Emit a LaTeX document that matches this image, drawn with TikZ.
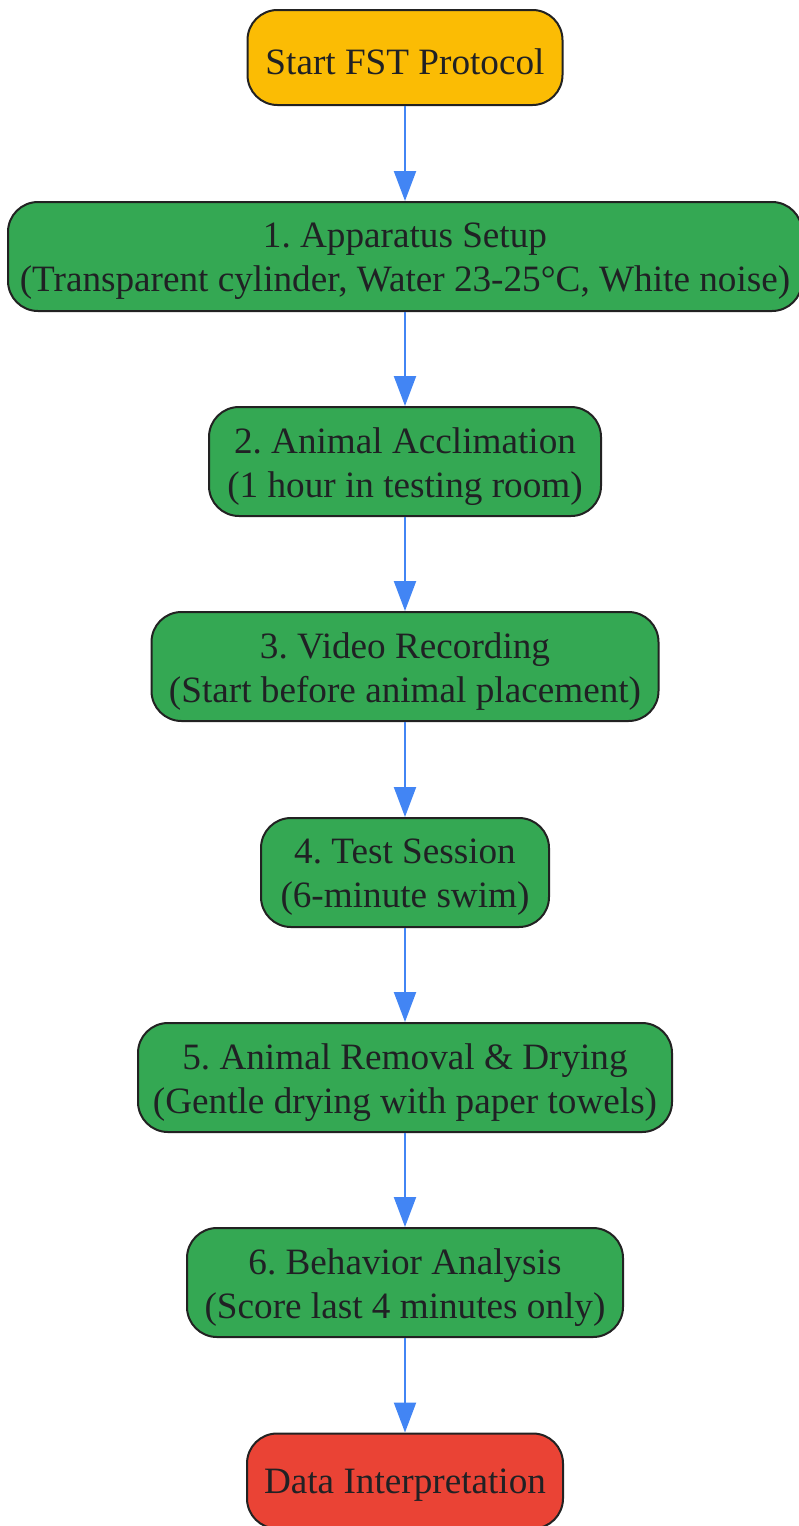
\documentclass[tikz,border=0pt]{standalone}
\usepackage{fontspec}
\setmainfont{Liberation Serif}
\usetikzlibrary{arrows.meta}
\definecolor{cyel}{HTML}{FBBC04}
\definecolor{cgrn}{HTML}{34A853}
\definecolor{cred}{HTML}{EA4335}
\definecolor{cblu}{HTML}{4285F4}
\definecolor{ctxt}{HTML}{202124}
\definecolor{cstk}{HTML}{222222}
\begin{document}
\frenchspacing
\begin{tikzpicture}[x=1pt,y=-1pt,
  box/.style={draw=cstk,line width=2pt,rounded corners=30pt,inner sep=0pt,anchor=center},
  one/.style={box,minimum height=95pt},
  two/.style={box,minimum height=109pt},
  txt/.style={align=center,text=ctxt,font=\fontsize{37.2}{44}\selectfont,inner sep=0pt},
  flow/.style={draw=cblu,line width=2.2pt,-{Triangle[length=30pt,width=22pt]}}]
\useasboundingbox (0,0) rectangle (798,1526);
\node[one,fill=cyel,minimum width=315pt] (s) at (405,57.5) {};
\node[two,fill=cgrn,minimum width=794pt] (a) at (405,256.5) {};
\node[two,fill=cgrn,minimum width=392pt] (b) at (405,461.5) {};
\node[two,fill=cgrn,minimum width=507pt] (c) at (405,666.5) {};
\node[two,fill=cgrn,minimum width=288pt] (d) at (405,872.5) {};
\node[two,fill=cgrn,minimum width=534pt] (e) at (405,1077.5) {};
\node[two,fill=cgrn,minimum width=436pt] (f) at (405,1282.5) {};
\node[one,fill=cred,minimum width=316pt] (g) at (405,1481) {};
\node[txt] (st) at ([yshift=-4pt]s.center) {Start FST Protocol};
\node[txt] (at) at ([yshift=-5pt]a.center) {1. Apparatus Setup\\(Transparent cylinder, Water 23-25°C, White noise)};
\node[txt] (bt) at ([yshift=-5pt]b.center) {2. Animal Acclimation\\(1 hour in testing room)};
\node[txt] (ct) at ([yshift=-5pt]c.center) {3. Video Recording\\(Start before animal placement)};
\node[txt] (dt) at ([yshift=-5pt]d.center) {4. Test Session\\(6-minute swim)};
\node[txt] (et) at ([yshift=-5pt]e.center) {5. Animal Removal \& Drying\\(Gentle drying with paper towels)};
\node[txt] (ft) at ([yshift=-5pt]f.center) {6. Behavior Analysis\\(Score last 4 minutes only)};
\node[txt] (gt) at ([yshift=-4pt]g.center) {Data Interpretation};
\foreach \p/\q in {s/a,a/b,b/c,c/d,d/e,e/f,f/g}
  \draw[flow] (\p.south) -- (\q.north);
\end{tikzpicture}
\end{document}
